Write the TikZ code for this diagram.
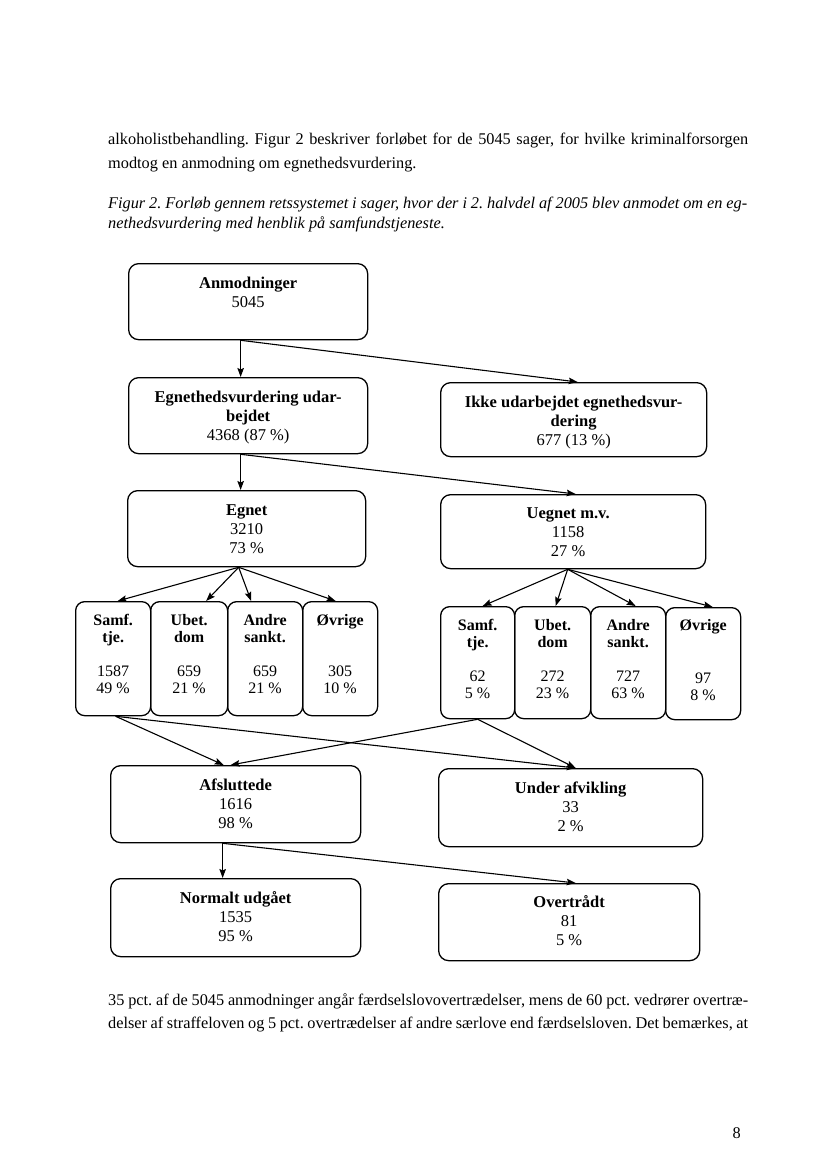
\documentclass[tikz,border=0pt]{standalone}
\usepackage{fontspec}
\setmainfont{Liberation Serif}
\usetikzlibrary{arrows.meta}
\frenchspacing
\begin{document}
\begin{tikzpicture}[x=1pt,y=-1pt,
  bx/.style={draw, line width=1.3pt, rounded corners=10pt, inner sep=0pt},
  tx/.style={inner sep=0pt, align=center, font=\fontsize{16.5}{19}\selectfont},
  stx/.style={inner sep=0pt, align=center, font=\fontsize{16}{17}\selectfont},
  arr/.style={-{Stealth[length=9pt,width=6.5pt,inset=1.5pt]}, line width=1.1pt},
  bodytxt/.style={inner sep=0pt, anchor=base west, font=\frenchspacing\fontsize{16.3}{23}\selectfont}]
\useasboundingbox[fill=white] (0,0) rectangle (826,1169);

% body text
\node[bodytxt] (p1) at (108,145) {\makebox[640pt][s]{alkoholistbehandling. Figur 2 beskriver forløbet for de 5045 sager, for hvilke kriminalforsorgen}};
\node[bodytxt] (p2) at (108,168) {modtog en anmodning om egnethedsvurdering.};
\node[bodytxt] (c1) at (108,208) {\itshape\makebox[639pt][s]{Figur 2. Forløb gennem retssystemet i sager, hvor der i 2. halvdel af 2005 blev anmodet om en eg-}};
\node[bodytxt] (c2) at (108,228) {\itshape nethedsvurdering med henblik på samfundstjeneste.};
\node[bodytxt] (b1) at (108,1005) {\makebox[640pt][s]{35 pct. af de 5045 anmodninger angår færdselslovovertrædelser, mens de 60 pct. vedrører overtræ-}};
\node[bodytxt] (b2) at (108,1028) {\makebox[640pt][s]{delser af straffeloven og 5 pct. overtrædelser af andre særlove end færdselsloven. Det bemærkes, at}};
\node[bodytxt, anchor=base east] (pg) at (741,1138) {8};

% large boxes
\node[bx, anchor=north west, minimum width=239, minimum height=76] (anm) at (128,263) {};
\node[tx, anchor=north] (anmT) at ([yshift=-11.7pt]anm.north) {\strut\textbf{Anmodninger}\\5045};

\node[bx, anchor=north west, minimum width=239, minimum height=76] (egn) at (128,377) {};
\node[tx, anchor=north] (egnT) at ([yshift=-11.7pt]egn.north) {\strut\textbf{Egnethedsvurdering udar-}\\\textbf{bejdet}\\4368 (87 \%)};

\node[bx, anchor=north west, minimum width=266, minimum height=74] (ikke) at (440,382) {};
\node[tx, anchor=north] (ikkeT) at ([yshift=-11.7pt]ikke.north) {\strut\textbf{Ikke udarbejdet egnethedsvur-}\\\textbf{dering}\\677 (13 \%)};

\node[bx, anchor=north west, minimum width=238, minimum height=76] (egnet) at (127,490) {};
\node[tx, anchor=north] (egnetT) at ([yshift=-11.7pt]egnet.north) {\strut\textbf{Egnet}\\3210\\73 \%};

\node[bx, anchor=north west, minimum width=265, minimum height=74] (uegnet) at (440,494) {};
\node[tx, anchor=north] (uegnetT) at ([xshift=-5pt,yshift=-10.7pt]uegnet.north) {\strut\textbf{Uegnet m.v.}\\1158\\27 \%};

% small boxes left
\node[bx, anchor=north west, minimum width=75, minimum height=114, rounded corners=9pt] (ls) at (75,601) {};
\node[bx, anchor=north west, minimum width=77, minimum height=114, rounded corners=9pt] (lu) at (150,601) {};
\node[bx, anchor=north west, minimum width=75, minimum height=114, rounded corners=9pt] (la) at (227,601) {};
\node[bx, anchor=north west, minimum width=75, minimum height=114, rounded corners=9pt] (lo) at (302,601) {};
\node[stx, anchor=north] (lsT) at ([yshift=-12.1pt]ls.north) {\strut\textbf{Samf.}\\\textbf{tje.}\\[17pt]1587\\49 \%};
\node[stx, anchor=north] (luT) at ([yshift=-12.1pt]lu.north) {\strut\textbf{Ubet.}\\\textbf{dom}\\[17pt]659\\21 \%};
\node[stx, anchor=north] (laT) at ([yshift=-12.1pt]la.north) {\strut\textbf{Andre}\\\textbf{sankt.}\\[17pt]659\\21 \%};
\node[stx, anchor=north] (loT) at ([yshift=-12.1pt]lo.north) {\strut\textbf{Øvrige}\\[34pt]305\\10 \%};

% small boxes right
\node[bx, anchor=north west, minimum width=74, minimum height=112, rounded corners=9pt] (rs) at (440,606) {};
\node[bx, anchor=north west, minimum width=76, minimum height=112, rounded corners=9pt] (ru) at (514,606) {};
\node[bx, anchor=north west, minimum width=75, minimum height=112, rounded corners=9pt] (ra) at (590,606) {};
\node[bx, anchor=north west, minimum width=75, minimum height=112, rounded corners=9pt] (ro) at (665,607) {};
\node[stx, anchor=north] (rsT) at ([yshift=-12.1pt]rs.north) {\strut\textbf{Samf.}\\\textbf{tje.}\\[17pt]62\\5 \%};
\node[stx, anchor=north] (ruT) at ([yshift=-12.1pt]ru.north) {\strut\textbf{Ubet.}\\\textbf{dom}\\[17pt]272\\23 \%};
\node[stx, anchor=north] (raT) at ([yshift=-12.1pt]ra.north) {\strut\textbf{Andre}\\\textbf{sankt.}\\[17pt]727\\63 \%};
\node[stx, anchor=north] (roT) at ([yshift=-11.1pt]ro.north) {\strut\textbf{Øvrige}\\[36pt]97\\8 \%};

% bottom boxes
\node[bx, anchor=north west, minimum width=250, minimum height=77] (afs) at (110,765) {};
\node[tx, anchor=north] (afsT) at ([yshift=-11.7pt]afs.north) {\strut\textbf{Afsluttede}\\1616\\98 \%};

\node[bx, anchor=north west, minimum width=264, minimum height=78] (und) at (438,768) {};
\node[tx, anchor=north] (undT) at ([yshift=-11.7pt]und.north) {\strut\textbf{Under afvikling}\\33\\2 \%};

\node[bx, anchor=north west, minimum width=250, minimum height=78] (nor) at (110,878) {};
\node[tx, anchor=north] (norT) at ([yshift=-11.7pt]nor.north) {\strut\textbf{Normalt udgået}\\1535\\95 \%};

\node[bx, anchor=north west, minimum width=261, minimum height=77] (ove) at (438,883) {};
\node[tx, anchor=north] (oveT) at ([yshift=-10.7pt]ove.north) {\strut\textbf{Overtrådt}\\81\\5 \%};

% connectors
\draw[arr] ([xshift=-7.5pt]anm.south) -- ([xshift=-7.5pt]egn.north);
\draw[arr] ([xshift=-7.5pt]anm.south) -- ([xshift=4pt]ikke.north);
\draw[arr] ([xshift=-7.5pt]egn.south) -- ([xshift=-6pt]egnet.north);
\draw[arr] ([xshift=-7.5pt]egn.south) -- ([xshift=2.5pt]uegnet.north);

\draw[arr] ([xshift=-8pt]egnet.south) -- ([xshift=4.5pt]ls.north);
\draw[arr] ([xshift=-8pt]egnet.south) -- ([xshift=17pt]lu.north);
\draw[arr] ([xshift=-8pt]egnet.south) -- ([xshift=-14pt]la.north);
\draw[arr] ([xshift=-8pt]egnet.south) -- ([xshift=-4.5pt]lo.north);

\draw[arr] ([xshift=-5.5pt]uegnet.south) -- ([xshift=5pt]rs.north);
\draw[arr] ([xshift=-5.5pt]uegnet.south) -- ([xshift=3pt]ru.north);
\draw[arr] ([xshift=-5.5pt]uegnet.south) -- ([xshift=7.5pt]ra.north);
\draw[arr] ([xshift=-5.5pt]uegnet.south) -- ([xshift=9.5pt]ro.north);

\draw[arr] ([xshift=2.5pt]ls.south) -- ([xshift=-12pt]afs.north);
\draw[arr] ([xshift=2.5pt]ls.south) -- ([xshift=5pt]und.north);
\draw[arr] (rs.south) -- ([xshift=-5pt]afs.north);
\draw[arr] (rs.south) -- ([xshift=5pt]und.north);

\draw[arr] ([xshift=-13pt]afs.south) -- ([xshift=-13pt]nor.north);
\draw[arr] ([xshift=-13pt]afs.south) -- ([xshift=6.5pt]ove.north);
\end{tikzpicture}
\end{document}
